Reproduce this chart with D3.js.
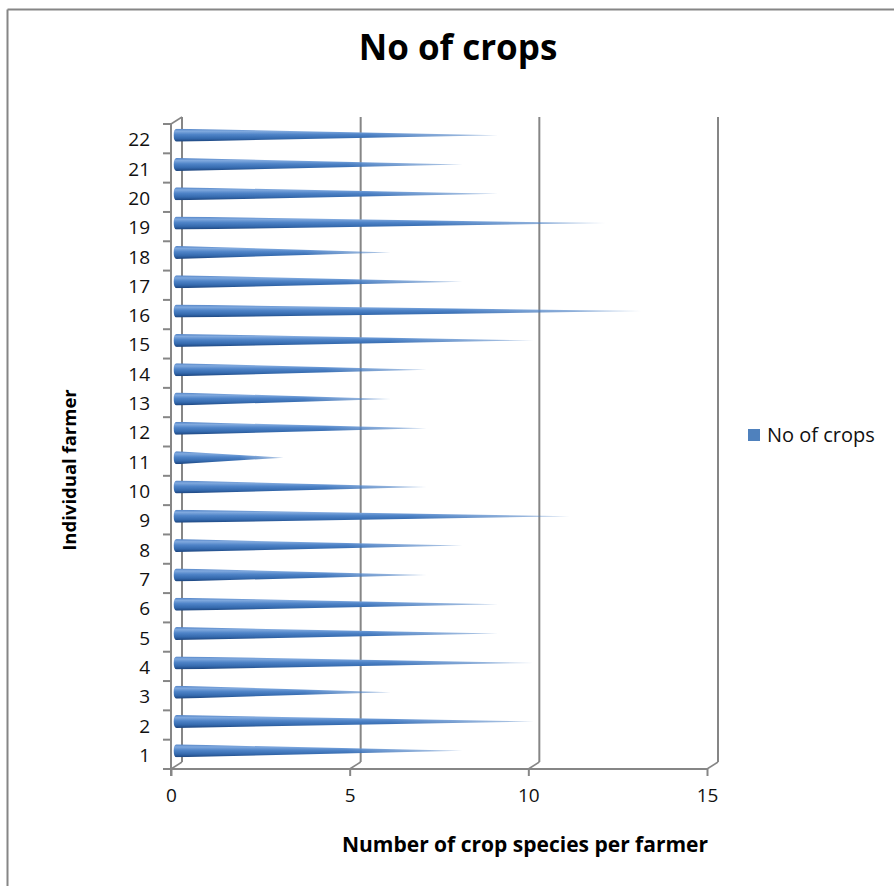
<!DOCTYPE html>
<html>
<head>
<meta charset="utf-8">
<script src="https://cdn.jsdelivr.net/npm/d3@7"></script>
<style>
  html, body { margin: 0; padding: 0; background: #fff; }
  svg { display: block; font-family: "Open Sans", "Liberation Sans", sans-serif; }
</style>
</head>
<body>
<svg id="chart" width="894" height="886"></svg>
<script>
// Farmers (category axis) and the number of crop species each grows
const farmers = ["1","2","3","4","5","6","7","8","9","10","11","12","13","14","15","16","17","18","19","20","21","22"];
const cropCounts = [8, 10, 6, 10, 9, 9, 7, 8, 11, 7, 3, 7, 6, 7, 10, 13, 8, 6, 12, 9, 8, 9];
const xTicks = [0, 5, 10, 15];
const seriesName = "No of crops";
const chartTitle = "No of crops";
const xTitle = "Number of crop species per farmer";
const yTitle = "Individual farmer";

const svg = d3.select("#chart");
const W = 894, H = 886;

// Front plane of the pseudo-3D plot area, plus depth offset toward the back wall
const front = { left: 171, right: 707, top: 124, bottom: 769 };
const depth = { dx: 11, dy: -7 };
const gridColor = "#868686";
const textColor = "#111";

const x = d3.scaleLinear().domain([0, 15]).range([front.left, front.right]);
const y = d3.scaleBand().domain(farmers.slice().reverse()).range([front.top, front.bottom]).padding(0);

// Outer chart border (top and left edges)
svg.append("line").attr("x1", 7.5).attr("x2", W).attr("y1", 9.5).attr("y2", 9.5)
  .attr("stroke", gridColor).attr("stroke-width", 2);
svg.append("line").attr("x1", 7.5).attr("x2", 7.5).attr("y1", 9.5).attr("y2", H)
  .attr("stroke", gridColor).attr("stroke-width", 2);

// Gradients for the cone shading and tip fade
const defs = svg.append("defs");
const grad = defs.append("linearGradient").attr("id", "coneFill")
  .attr("x1", 0).attr("y1", 0).attr("x2", 0).attr("y2", 1);
[[0, "#5283c6"], [0.2, "#80a9de"], [0.45, "#4f84c8"], [0.75, "#356aae"], [1, "#1b437c"]]
  .forEach(([o, c]) => grad.append("stop").attr("offset", o).attr("stop-color", c));

const fade = defs.append("linearGradient").attr("id", "tipFade")
  .attr("x1", 0).attr("y1", 0).attr("x2", 1).attr("y2", 0);
[[0, "#fff"], [0.6, "#fff"], [1, "#666"]]
  .forEach(([o, c]) => fade.append("stop").attr("offset", o).attr("stop-color", c));
defs.append("mask").attr("id", "coneMask").attr("maskContentUnits", "objectBoundingBox")
  .append("rect").attr("x", 0).attr("y", 0).attr("width", 1).attr("height", 1)
  .attr("fill", "url(#tipFade)");

// Back wall vertical gridlines and the floor connectors
const g = svg.append("g");
xTicks.forEach(v => {
  g.append("line")
    .attr("x1", x(v) + depth.dx).attr("x2", x(v) + depth.dx)
    .attr("y1", front.top + depth.dy).attr("y2", front.bottom + depth.dy)
    .attr("stroke", gridColor).attr("stroke-width", 2);
  g.append("line")
    .attr("x1", x(v)).attr("y1", front.bottom)
    .attr("x2", x(v) + depth.dx).attr("y2", front.bottom + depth.dy)
    .attr("stroke", gridColor).attr("stroke-width", 1.5);
});
// Side wall top connector
g.append("line")
  .attr("x1", front.left).attr("y1", front.top)
  .attr("x2", front.left + depth.dx).attr("y2", front.top + depth.dy)
  .attr("stroke", gridColor).attr("stroke-width", 1.5);

// Bottom value axis
const xAxis = svg.append("g")
  .attr("transform", `translate(0,${front.bottom})`)
  .call(d3.axisBottom(x).tickValues(xTicks).tickSize(7).tickPadding(13).tickSizeOuter(0));
xAxis.select(".domain").remove();
xAxis.append("line").attr("x1", front.left - 8).attr("x2", front.right).attr("y1", 0).attr("y2", 0)
  .attr("stroke", gridColor).attr("stroke-width", 2);
xAxis.selectAll(".tick line").attr("stroke", gridColor).attr("stroke-width", 2);
xAxis.selectAll(".tick text").attr("fill", textColor).style("font-size", "19px")
  .style("font-family", "'Open Sans', sans-serif");

// Left category axis: labels at band centres, tick marks on band boundaries
const yAxis = svg.append("g")
  .attr("transform", `translate(${front.left},0)`)
  .call(d3.axisLeft(y).tickSize(0).tickPadding(21));
yAxis.select(".domain").remove();
yAxis.append("line").attr("x1", 0).attr("x2", 0).attr("y1", front.top).attr("y2", front.bottom + 7)
  .attr("stroke", gridColor).attr("stroke-width", 2);
yAxis.selectAll(".tick text").attr("fill", textColor).attr("dy", "0.4em").style("font-size", "19px")
  .style("font-family", "'Open Sans', sans-serif");
const bounds = y.domain().map(d => y(d));
yAxis.selectAll("line.bound").data(bounds).join("line").attr("class", "bound")
  .attr("x1", -8).attr("x2", 0).attr("y1", d => d).attr("y2", d => d)
  .attr("stroke", gridColor).attr("stroke-width", 2);

// Cones, placed at mid depth
const midDx = depth.dx / 2, midDy = depth.dy / 2;
const r = 6.5, capRx = 3;
const rows = farmers.map((f, i) => ({ farmer: f, value: cropCounts[i] }));
svg.append("g").selectAll("path.cone").data(rows).join("path")
  .attr("class", "cone")
  .attr("d", d => {
    const x0 = x(0) + midDx;
    const x1 = x(d.value) + midDx;
    const cy = y(d.farmer) + y.bandwidth() / 2 + midDy;
    return `M${x0},${cy - r} L${x1},${cy} L${x0},${cy + r} A${capRx},${r} 0 0 1 ${x0},${cy - r} Z`;
  })
  .attr("fill", "url(#coneFill)")
  .attr("mask", "url(#coneMask)");

// Titles
svg.append("text").attr("x", 458).attr("y", 60).attr("text-anchor", "middle")
  .style("font-size", "35px").style("font-weight", "bold").attr("fill", "#000")
  .text(chartTitle);
svg.append("text").attr("x", 525).attr("y", 852).attr("text-anchor", "middle")
  .style("font-size", "21px").style("font-weight", "bold").attr("fill", "#000")
  .text(xTitle);
svg.append("text").attr("transform", "translate(76,470) rotate(-90)").attr("text-anchor", "middle")
  .style("font-size", "18.5px").style("font-weight", "bold").attr("fill", "#000")
  .text(yTitle);

// Legend
const legend = svg.append("g").attr("transform", "translate(748,429)");
legend.append("rect").attr("width", 12).attr("height", 12).attr("fill", "#4f81bd");
legend.append("text").attr("x", 19).attr("y", 12.5).style("font-size", "20px").attr("fill", textColor)
  .text(seriesName);
</script>
</body>
</html>
